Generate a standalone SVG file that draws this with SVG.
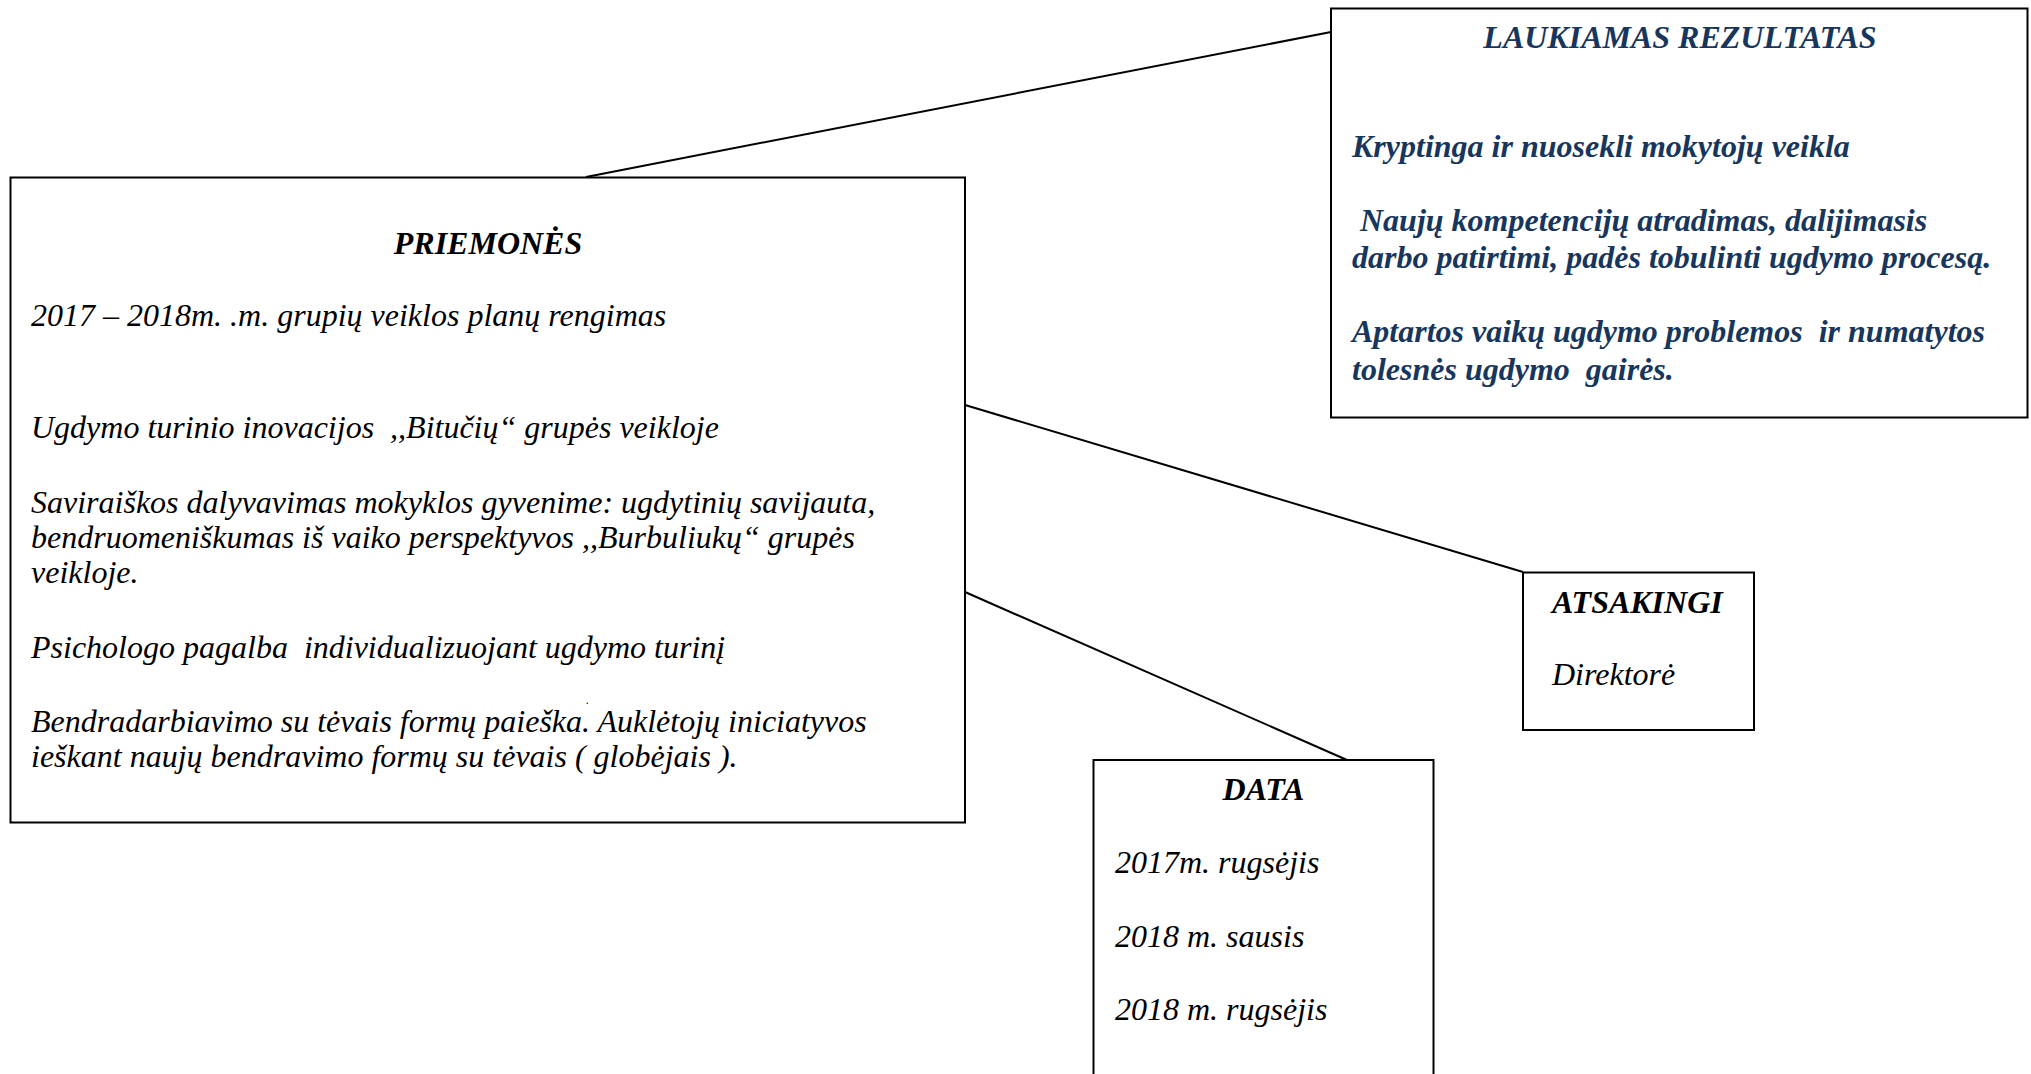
<svg xmlns="http://www.w3.org/2000/svg" width="2031" height="1074" viewBox="0 0 2031 1074">
<style>
.box{fill:#ffffff;stroke:#000000;stroke-width:2}
.con{stroke:#000000;stroke-width:2;fill:none}
.t{font-family:"Liberation Serif","Times New Roman",serif;font-style:italic;font-size:32px;fill:#000000}
.h{font-weight:bold}
.blue{fill:#17365D;font-weight:bold}
</style>
<rect x="0" y="0" width="2031" height="1074" fill="#ffffff"/>
<g id="connectors">
<line class="con" x1="586" y1="177" x2="1331" y2="32"/>
<line class="con" x1="965" y1="405" x2="1523" y2="572"/>
<line class="con" x1="965" y1="592" x2="1347" y2="760"/>
</g>
<g id="priemones">
<rect class="box" x="10.5" y="177.5" width="954.5" height="645"/>
<text class="t h" x="488" y="254" text-anchor="middle">PRIEMONĖS</text>
<text class="t" x="31" y="326">2017 – 2018m. .m. grupių veiklos planų rengimas</text>
<text class="t" x="31" y="438" xml:space="preserve">Ugdymo turinio inovacijos  ,,Bitučių“ grupės veikloje</text>
<text class="t" x="31" y="513">Saviraiškos dalyvavimas mokyklos gyvenime: ugdytinių savijauta,</text>
<text class="t" x="31" y="548">bendruomeniškumas iš vaiko perspektyvos ,,Burbuliukų“ grupės</text>
<text class="t" x="31" y="583">veikloje.</text>
<text class="t" x="31" y="658" xml:space="preserve">Psichologo pagalba  individualizuojant ugdymo turinį</text>
<text class="t" x="586" y="704" style="font-size:12px">.</text>
<text class="t" x="31" y="732">Bendradarbiavimo su tėvais formų paieška. Auklėtojų iniciatyvos</text>
<text class="t" x="31" y="767">ieškant naujų bendravimo formų su tėvais ( globėjais ).</text>
</g>
<g id="laukiamas">
<rect class="box" x="1331" y="8.5" width="696.5" height="409"/>
<text class="t blue" x="1680" y="48" text-anchor="middle">LAUKIAMAS REZULTATAS</text>
<text class="t blue" x="1352" y="157">Kryptinga ir nuosekli mokytojų veikla</text>
<text class="t blue" x="1352" y="231" xml:space="preserve"> Naujų kompetencijų atradimas, dalijimasis</text>
<text class="t blue" x="1352" y="268">darbo patirtimi, padės tobulinti ugdymo procesą.</text>
<text class="t blue" x="1352" y="342" xml:space="preserve">Aptartos vaikų ugdymo problemos  ir numatytos</text>
<text class="t blue" x="1352" y="380" xml:space="preserve">tolesnės ugdymo  gairės.</text>
</g>
<g id="atsakingi">
<rect class="box" x="1523" y="572.5" width="231" height="157.5"/>
<text class="t h" x="1552" y="613">ATSAKINGI</text>
<text class="t" x="1552" y="685">Direktorė</text>
</g>
<g id="data">
<rect class="box" x="1093.5" y="760" width="340" height="330"/>
<text class="t h" x="1263.5" y="800" text-anchor="middle">DATA</text>
<text class="t" x="1115" y="873">2017m. rugsėjis</text>
<text class="t" x="1115" y="947">2018 m. sausis</text>
<text class="t" x="1115" y="1020">2018 m. rugsėjis</text>
</g>
</svg>
